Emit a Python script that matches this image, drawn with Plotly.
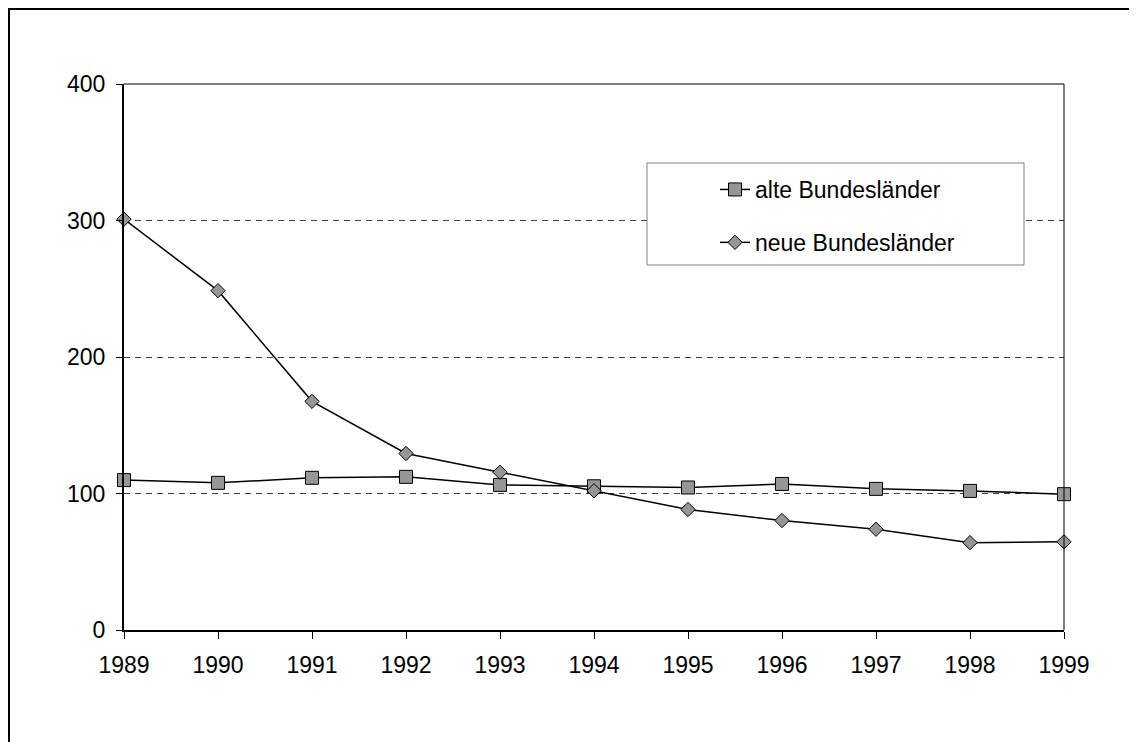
import plotly.graph_objects as go

years = [1989, 1990, 1991, 1992, 1993, 1994, 1995, 1996, 1997, 1998, 1999]
alte = [109.8, 107.8, 111.5, 112.2, 106.3, 105.3, 104.4, 107.0, 103.4, 101.9, 99.5]
neue = [301.0, 248.6, 167.5, 129.3, 115.6, 102.0, 88.3, 80.2, 73.8, 64.0, 64.6]
series_names = ["alte Bundesländer", "neue Bundesländer"]
y_ticks = [0, 100, 200, 300, 400]

OFF = 8  # default page body margin
W, H = 1137 - OFF, 742 - OFF
# plot area in page pixel coordinates
L, R, T, B = 124, 1064, 84, 630
pw, ph = R - L, B - T


def px(x):
    return (x - L) / pw


def py(y):
    return (B - y) / ph


FONT = "Liberation Sans, Arial, sans-serif"
FILL = "#969696"

fig = go.Figure()
fig.add_trace(go.Scatter(
    x=years, y=alte, name=series_names[0], mode="lines+markers",
    line=dict(color="black", width=1.5),
    marker=dict(symbol="square", size=13, color=FILL, line=dict(color="black", width=1)),
    cliponaxis=False, legendgroup="a"))
fig.add_trace(go.Scatter(
    x=years, y=neue, name=series_names[1], mode="lines+markers",
    line=dict(color="black", width=1.5),
    marker=dict(symbol="diamond", size=11, color=FILL, line=dict(color="black", width=1)),
    cliponaxis=False, legendgroup="b"))

shapes = [
    # outer chart border (left and top visible; right/bottom lie outside the view)
    dict(type="path", xref="paper", yref="paper",
         path=f"M {px(9)},{py(760)} L {px(9)},{py(9)} L {px(1160)},{py(9)}",
         line=dict(color="black", width=2), layer="below"),
    # plot area border top/right
    dict(type="line", xref="paper", yref="paper", x0=0, x1=1, y0=1, y1=1,
         line=dict(color="black", width=1)),
    dict(type="line", xref="paper", yref="paper", x0=1, x1=1, y0=0, y1=1,
         line=dict(color="black", width=1)),
    # legend box
    dict(type="rect", xref="paper", yref="paper", x0=px(647), x1=px(1024), y0=py(265), y1=py(163),
         line=dict(color="#808080", width=1), fillcolor="white", layer="above"),
]

fig.update_layout(
    width=W, height=H,
    margin=dict(l=L - OFF, r=W - (R - OFF), t=T - OFF, b=H - (B - OFF), pad=0),
    paper_bgcolor="white", plot_bgcolor="white",
    font=dict(family=FONT, size=23, color="black"),
    shapes=shapes,
    showlegend=True,
    legend=dict(x=px(715), y=py(168), xanchor="left", yanchor="top",
                bgcolor="rgba(0,0,0,0)", borderwidth=0,
                traceorder="grouped", tracegroupgap=20,
                font=dict(family=FONT, size=23, color="black")),
    xaxis=dict(range=[1989, 1999], tickmode="array", tickvals=years,
               ticktext=[str(y) for y in years],
               showgrid=False, zeroline=False, showline=True, linecolor="black", linewidth=2,
               ticks="outside", ticklen=7, tickwidth=1, tickcolor="black",
               ticklabelstandoff=6),
    yaxis=dict(range=[0, 400], tickmode="array", tickvals=y_ticks,
               ticktext=[str(v) for v in y_ticks],
               showgrid=True, gridcolor="#404040", gridwidth=1, griddash="6px,5px",
               zeroline=False, showline=True, linecolor="black", linewidth=2,
               ticks="outside", ticklen=6, tickwidth=1, tickcolor="black",
               ticklabelstandoff=6),
)

fig.write_html("out.html")
